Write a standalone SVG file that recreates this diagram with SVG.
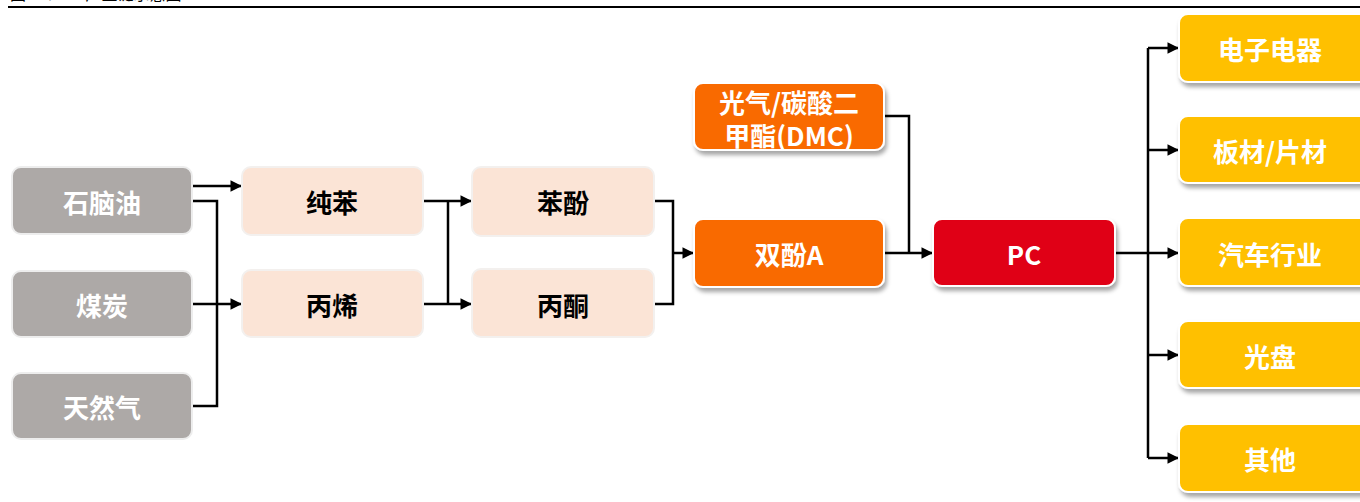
<svg xmlns="http://www.w3.org/2000/svg" width="1360" height="502" viewBox="0 0 1360 502">
<defs>
<marker id="arr" viewBox="0 0 10 10" refX="10" refY="5" markerWidth="5" markerHeight="4.6" orient="auto" markerUnits="strokeWidth">
<path d="M0,0 L10,5 L0,10 z" fill="#000"/>
</marker>
<filter id="sh" x="-10%" y="-10%" width="130%" height="140%">
<feDropShadow dx="2" dy="4" stdDeviation="2" flood-color="#000" flood-opacity="0.35"/>
</filter>
<style>
text{font-family:"Microsoft YaHei","Noto Sans CJK SC","Noto Sans",sans-serif;font-weight:bold;font-size:26px;text-anchor:middle;dominant-baseline:central}
.gray rect{fill:#ADA9A7;stroke:#EDEDED;stroke-width:2}
.gray text{fill:#fff}
.peach rect{fill:#FBE4D6;stroke:#F3F0EE;stroke-width:2}
.peach text{fill:#000}
.orange rect{fill:#F96A06;stroke:#fff;stroke-width:2;filter:url(#sh)}
.red rect{fill:#E00012;stroke:#fff;stroke-width:2;filter:url(#sh)}
.yellow rect{fill:#FFC000;stroke:#fff;stroke-width:2;filter:url(#sh)}
.orange text,.red text,.yellow text{fill:#fff}
.c{fill:none;stroke:#000;stroke-width:2.5}
.caption{font-family:"Liberation Serif","Noto Sans CJK SC",serif;font-weight:normal;font-size:16px;text-anchor:start;dominant-baseline:alphabetic;fill:#000}
</style>
</defs>
<rect width="1360" height="502" fill="#fff"/>
<text class="caption" x="10" y="0">图 26：PC 产业链示意图</text>
<line x1="8" y1="7" x2="1360" y2="7" stroke="#000" stroke-width="2"/>

<g id="connectors">
<path class="c" d="M192,186 H242" marker-end="url(#arr)"/>
<path class="c" d="M192,201 H217 V406 H192"/>
<path class="c" d="M192,304 H242" marker-end="url(#arr)"/>
<path class="c" d="M423,201 H472" marker-end="url(#arr)"/>
<path class="c" d="M423,304 H472" marker-end="url(#arr)"/>
<path class="c" d="M448,201 V304"/>
<path class="c" d="M654,201 H673 V304 H654"/>
<path class="c" d="M673,253 H694" marker-end="url(#arr)"/>
<path class="c" d="M884,116 H909 V253"/>
<path class="c" d="M884,253 H933" marker-end="url(#arr)"/>
<path class="c" d="M1115,253 H1148"/>
<path class="c" d="M1148,48 V458"/>
<path class="c" d="M1148,48 H1179" marker-end="url(#arr)"/>
<path class="c" d="M1148,150 H1179" marker-end="url(#arr)"/>
<path class="c" d="M1148,253 H1179" marker-end="url(#arr)"/>
<path class="c" d="M1148,355 H1179" marker-end="url(#arr)"/>
<path class="c" d="M1148,458 H1179" marker-end="url(#arr)"/>
</g>

<g id="n-naphtha" class="gray"><rect x="12" y="167" width="180" height="67" rx="9"/><text x="102" y="201">石脑油</text></g>
<g id="n-coal" class="gray"><rect x="12" y="271" width="180" height="66" rx="9"/><text x="102" y="304">煤炭</text></g>
<g id="n-gas" class="gray"><rect x="12" y="373" width="180" height="66" rx="9"/><text x="102" y="406">天然气</text></g>

<g id="n-benzene" class="peach"><rect x="242" y="167" width="181" height="68" rx="9"/><text x="332" y="201">纯苯</text></g>
<g id="n-propylene" class="peach"><rect x="242" y="270" width="181" height="67" rx="9"/><text x="332" y="304">丙烯</text></g>
<g id="n-phenol" class="peach"><rect x="472" y="167" width="182" height="69" rx="9"/><text x="563" y="201">苯酚</text></g>
<g id="n-acetone" class="peach"><rect x="472" y="269" width="182" height="68" rx="9"/><text x="563" y="304">丙酮</text></g>

<g id="n-dmc" class="orange"><rect x="694" y="83" width="190" height="67" rx="9"/><text x="789" y="101">光气/碳酸二</text><text x="789" y="134">甲酯(DMC)</text></g>
<g id="n-bpa" class="orange"><rect x="694" y="219" width="190" height="68" rx="9"/><text x="789" y="253">双酚A</text></g>
<g id="n-pc" class="red"><rect x="933" y="219" width="182" height="67" rx="9"/><text x="1024" y="253">PC</text></g>

<g id="n-elec" class="yellow"><rect x="1179" y="14" width="190" height="68" rx="9"/><text x="1270" y="48">电子电器</text></g>
<g id="n-sheet" class="yellow"><rect x="1179" y="116" width="190" height="67" rx="9"/><text x="1270" y="150">板材/片材</text></g>
<g id="n-auto" class="yellow"><rect x="1179" y="218" width="190" height="68" rx="9"/><text x="1270" y="253">汽车行业</text></g>
<g id="n-disc" class="yellow"><rect x="1179" y="321" width="190" height="67" rx="9"/><text x="1270" y="355">光盘</text></g>
<g id="n-other" class="yellow"><rect x="1179" y="424" width="190" height="68" rx="9"/><text x="1270" y="458">其他</text></g>
</svg>
